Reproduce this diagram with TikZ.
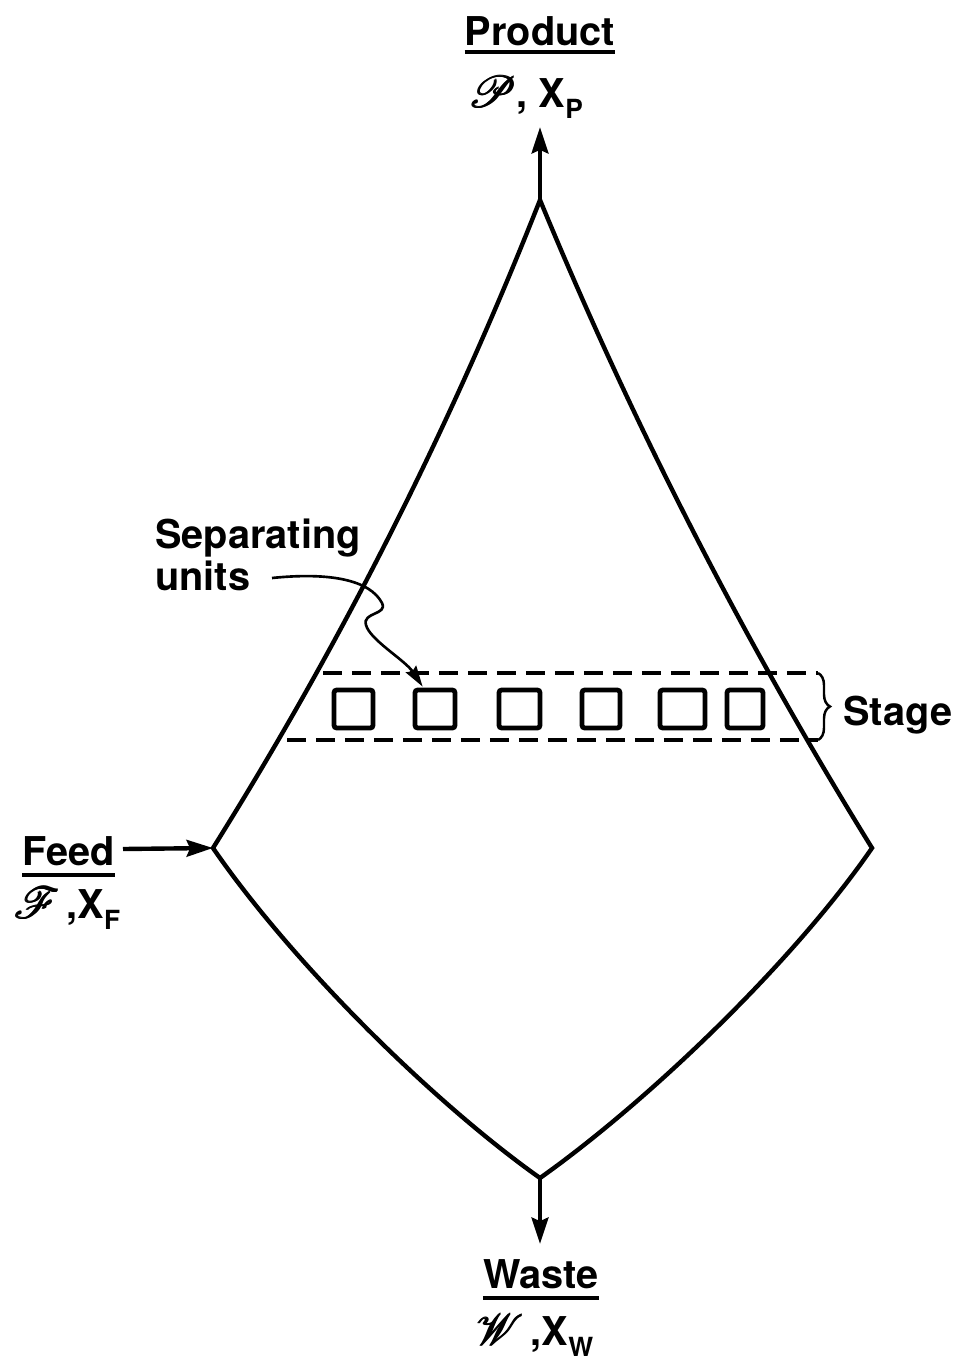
\documentclass[tikz,border=0pt]{standalone}
\usepackage{fontspec}
\setmainfont{TeX Gyre Heros}
\usepackage{mathrsfs}
\usetikzlibrary{arrows.meta,calc,decorations.pathreplacing}
\newcommand\mysub[1]{\raisebox{-0.55ex}{\fontsize{15pt}{15pt}\selectfont #1}}
\newcommand\myheavy[1]{\rlap{#1}\kern0.45pt\rlap{#1}\kern0.45pt\rlap{\raisebox{0.45pt}{#1}}#1}
\newcommand\myscr[1]{{\fontsize{31pt}{31pt}\selectfont\myheavy{$\mathscr{#1}$}}}
\begin{document}
\begin{tikzpicture}[x=0.02cm,y=-0.02cm,
  shapeline/.style={line width=2.5pt, line join=miter},
  flowarrow/.style={line width=2.5pt, -{Stealth[length=15pt,width=9.5pt,inset=2pt]}},
  leaderarrow/.style={line width=1.5pt, -{Stealth[length=12pt,width=7pt,inset=1.5pt]}},
  unitbox/.style={draw, line width=2.7pt, rounded corners=1.5pt, minimum height=0.76cm, inner sep=0pt},
  stagedash/.style={line width=1.9pt, dash pattern=on 11pt off 5.5pt},
  stagebrace/.style={line width=1.4pt, decorate, decoration={brace, amplitude=0.24cm}},
  txt/.style={font=\fontsize{22.6pt}{26pt}\selectfont\bfseries, inner sep=0pt, anchor=base},
  underl/.style={line width=1.9pt}
]
\useasboundingbox (0,0) rectangle (959,1363);

% main outline
\coordinate (top) at (540,200);
\coordinate (left) at (213,848);
\coordinate (right) at (872,848);
\coordinate (bottom) at (540,1178);
\draw[shapeline] (top) .. controls (451,426) and (342,642) .. (left)
  .. controls (290,960) and (430,1100) .. (bottom)
  .. controls (650,1100) and (795,960) .. (right)
  .. controls (744,641) and (633,425) .. cycle;

% flows
\coordinate (ptip) at (540,127);
\coordinate (wtip) at (540,1244);
\coordinate (ftail) at (123,849);
\draw[flowarrow] (top) -- (ptip);
\draw[flowarrow] (bottom) -- (wtip);
\draw[flowarrow] (ftail) -- (left);

% labels
\node[txt] (prod) at (540,45) {Product};
\draw[underl] ($(prod.base west)+(0,7)$) -- ($(prod.base east)+(0,7)$);
\node[txt, anchor=base west] (psym) at (467,107) {\myscr{P}, X\mysub{P}};

\node[txt, anchor=base west] (feed) at (22,865) {Feed};
\draw[underl] ($(feed.base west)+(0,10)$) -- ($(feed.base east)+(0,10)$);
\node[txt, anchor=base west] (fsym) at (13,918) {\myscr{F}\,,X\mysub{F}};

\node[txt] (waste) at (541,1288) {Waste};
\draw[underl] ($(waste.base west)+(0,10)$) -- ($(waste.base east)+(0,10)$);
\node[txt, anchor=base west] (wsym) at (475,1345) {\myscr{W}\,,X\mysub{W}};

\node[txt, anchor=base west] (stage) at (843,725) {Stage};
\node[txt, anchor=base west] (sep) at (155,548) {Separating};
\node[txt, anchor=base west] (units) at (155,590) {units};

% separating units
\node[unitbox, minimum width=0.78cm] (u1) at (353.5,709) {};
\node[unitbox, minimum width=0.80cm] (u2) at (435,709) {};
\node[unitbox, minimum width=0.82cm] (u3) at (519.5,709) {};
\node[unitbox, minimum width=0.76cm] (u4) at (601,709) {};
\node[unitbox, minimum width=0.90cm] (u5) at (682.5,709) {};
\node[unitbox, minimum width=0.72cm] (u6) at (745,709) {};

% stage boundary
\coordinate (dtl) at (323,673);
\coordinate (dtr) at (818,673);
\coordinate (dbl) at (287,740);
\coordinate (dbr) at (818,740);
\draw[stagedash] (dtl) -- (dtr);
\draw[stagedash] (dbl) -- (dbr);
\draw[stagebrace] (dtr) -- (dbr);

% leader
\coordinate (lstart) at (272,578);
\draw[leaderarrow] (lstart) .. controls (330,572) and (370,580) .. (382,603)
  .. controls (388,615) and (362,612) .. (366,625)
  .. controls (370,640) and (405,660) .. ($(u2.north west)+(10,-1)$);
\end{tikzpicture}
\end{document}
